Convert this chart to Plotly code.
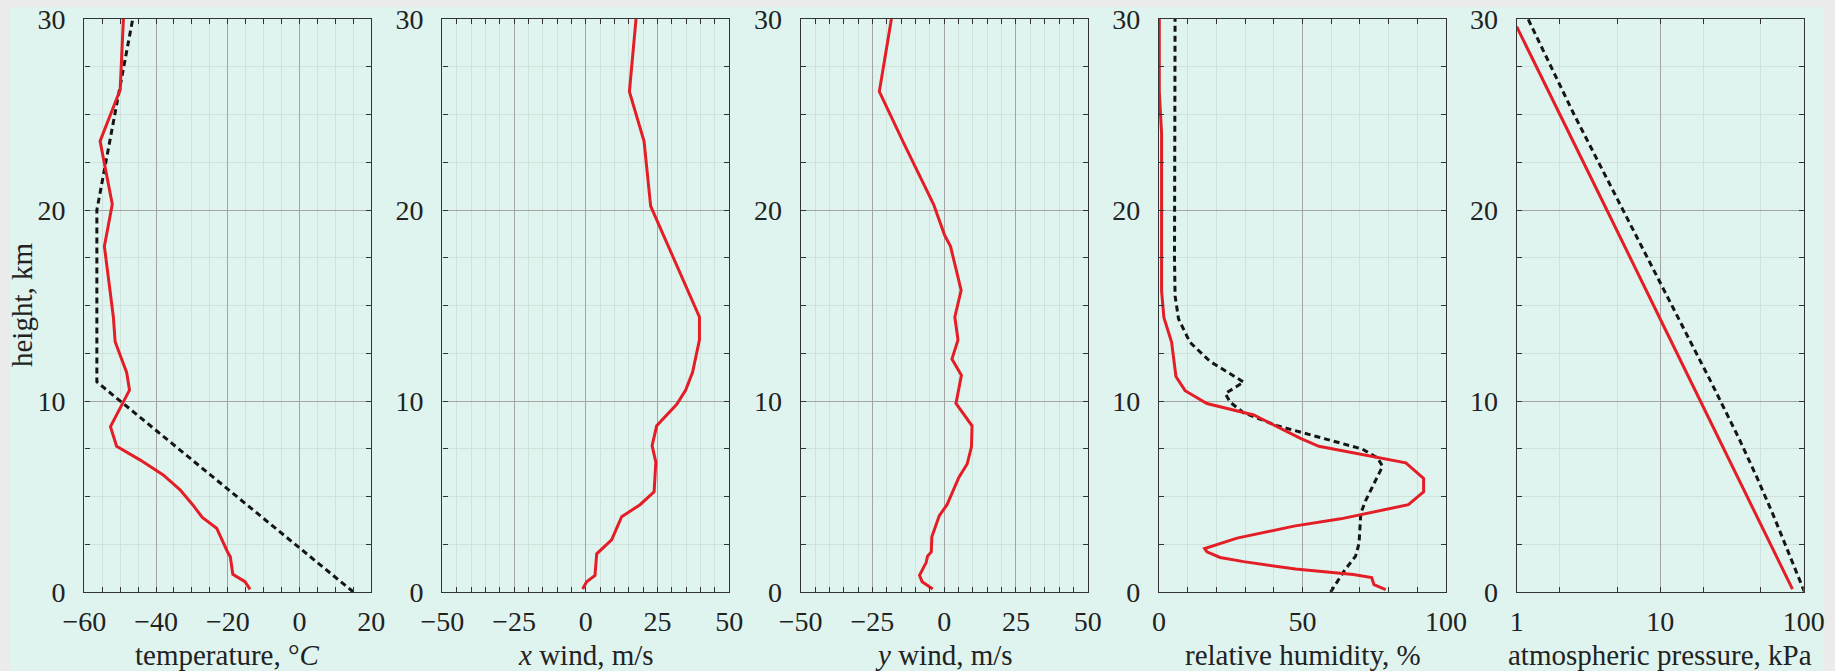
import plotly.graph_objects as go
from plotly.subplots import make_subplots

# ---------------- data ----------------
# temperature sounding (red) and standard atmosphere (dashed)
temp_h = [0.14, 0.54, 0.93, 1.85, 2.11, 2.78, 3.34, 3.9, 4.57, 5.35, 6.13, 6.92, 7.63,
          8.66, 10.57, 11.5, 13.1, 14.4, 16.2, 18.1, 20.3, 23.6, 26.3, 30.0]
temp_T = [-13.8, -15.2, -18.6, -19.3, -20.1, -21.7, -23.1, -27.1, -29.8, -33.3, -38.0,
          -44.5, -51.0, -52.7, -47.4, -48.2, -51.4, -51.9, -53.1, -54.4, -52.2, -55.6,
          -50.0, -49.1]
std_temp_h = [0, 11, 20, 30]
std_temp_T = [15, -56.5, -56.5, -46.5]

# x wind
xw_h = [0.16, 0.54, 0.87, 1.43, 2.0, 2.73, 3.94, 4.57, 5.24, 6.8, 7.66, 8.7, 9.83,
        10.57, 11.5, 13.2, 14.4, 20.2, 23.6, 26.2, 30.0]
xw_u = [-1.1, 0.3, 3.2, 3.6, 3.8, 9.0, 12.5, 18.9, 23.8, 24.4, 23.1, 24.7, 31.7,
        34.8, 37.2, 39.6, 39.6, 22.6, 20.3, 15.2, 17.5]

# y wind
yw_h = [0.16, 0.54, 0.87, 1.2, 1.54, 1.88, 2.1, 2.89, 4.0, 4.57, 6.0, 6.7, 7.6, 8.7,
        9.87, 11.35, 12.2, 13.2, 14.4, 15.8, 18.1, 18.7, 20.3, 23.5, 26.2, 30.0]
yw_v = [-4.0, -7.7, -8.6, -7.4, -6.3, -5.8, -4.5, -4.3, -1.7, 1.0, 5.1, 8.0, 9.5, 9.7,
        4.1, 6.0, 2.7, 4.8, 3.7, 5.9, 2.2, 0.1, -3.7, -14.1, -22.6, -18.4]

# relative humidity
rh_h = [0.13, 0.38, 0.76, 0.92, 1.2, 1.59, 1.81, 2.1, 2.28, 2.82, 3.45, 3.83, 4.57,
        5.24, 5.95, 6.76, 7.63, 8.04, 9.27, 9.87, 10.54, 11.28, 13.07, 14.37, 15.76,
        24.0, 26.2, 30.0]
rh_v = [79.0, 74.9, 74.1, 67.7, 47.6, 29.5, 21.3, 16.7, 15.9, 27.2, 47.0, 63.3, 86.9,
        92.2, 92.2, 86.0, 55.7, 49.3, 33.0, 16.7, 9.1, 5.9, 4.4, 1.7, 0.9,
        0.9, 0.1, 0.1]
rh2_h = [0, 1.1, 1.88, 2.55, 4.12, 4.79, 6.58, 7.03, 7.48, 8.15, 8.71, 9.38, 9.94,
         10.39, 10.99, 12.07, 13.07, 14.3, 15.5, 17.5, 30.0]
rh2_v = [59.8, 64.5, 68.5, 69.7, 70.3, 72.0, 77.9, 76.1, 70.9, 55.1, 41.1, 29.5, 24.8,
         23.1, 29.5, 17.8, 10.8, 6.8, 5.6, 5.4, 5.6]

# atmospheric pressure (kPa)
p_h = [0.15, 5, 10, 15, 20, 25, 29.6]
p_v = [83.5, 40.5, 19.2, 9.0, 4.25, 2.0, 1.0]
std_p_h = [0, 2, 4, 6, 8, 11, 15, 20, 25, 30]
std_p_v = [101.3, 79.5, 61.6, 47.2, 35.6, 22.6, 12.1, 5.47, 2.51, 1.20]

x_titles = ["temperature, °<i>C</i>", "<i>x</i> wind, m/s", "<i>y</i> wind, m/s",
            "relative humidity, %", "atmospheric pressure, kPa"]
y_title = "height, km"

# ---------------- figure ----------------
W, H = 1835, 671
MINT = "#dff4ee"
RED = "#e41e26"
BLK = "#151515"
FONT = "Liberation Serif"
FS = 28

fig = make_subplots(rows=1, cols=5)

red_line = dict(color=RED, width=3)
dash_line = dict(color=BLK, width=3, dash="6px,4px")

fig.add_trace(go.Scatter(x=std_temp_T, y=std_temp_h, mode="lines", line=dash_line), 1, 1)
fig.add_trace(go.Scatter(x=temp_T, y=temp_h, mode="lines", line=red_line), 1, 1)
fig.add_trace(go.Scatter(x=xw_u, y=xw_h, mode="lines", line=red_line), 1, 2)
fig.add_trace(go.Scatter(x=yw_v, y=yw_h, mode="lines", line=red_line), 1, 3)
fig.add_trace(go.Scatter(x=rh2_v, y=rh2_h, mode="lines", line=dash_line), 1, 4)
fig.add_trace(go.Scatter(x=rh_v, y=rh_h, mode="lines", line=red_line), 1, 4)
fig.add_trace(go.Scatter(x=std_p_v, y=std_p_h, mode="lines", line=dash_line), 1, 5)
fig.add_trace(go.Scatter(x=p_v, y=p_h, mode="lines", line=red_line), 1, 5)

lefts = [84.3, 442.3, 800.7, 1159.0, 1516.7]
pw = 287.0
ybot, ytop = 592.0, 19.0

common = dict(showline=True, linecolor="#333333", linewidth=1.4, mirror="allticks",
              ticks="inside", ticklen=5, tickwidth=1, tickcolor="#333333",
              showgrid=True, gridcolor="#a4a4a4", gridwidth=1, zeroline=False,
              automargin=False,
              tickfont=dict(family=FONT, size=FS, color="#222222"))
minor_common = dict(ticks="inside", ticklen=5, tickwidth=1, tickcolor="#333333",
                    showgrid=True, gridcolor="#cfe2dc", gridwidth=1)

xcfg = [
    dict(range=[-60, 20], tick0=-60, dtick=20, minor=dict(dtick=5, **minor_common)),
    dict(range=[-50, 50], tick0=-50, dtick=25, minor=dict(dtick=5, **minor_common)),
    dict(range=[-50, 50], tick0=-50, dtick=25, minor=dict(dtick=5, **minor_common)),
    dict(range=[0, 100], tick0=0, dtick=50, minor=dict(dtick=10, **minor_common)),
    dict(type="log", range=[0, 2], tickmode="array", tickvals=[1, 10, 100],
         ticktext=["1", "10", "100"],
         minor=dict(tickmode="array", tickvals=[2, 5, 20, 50], **minor_common)),
]

for i in range(5):
    k = "" if i == 0 else str(i + 1)
    l = lefts[i]
    fig.layout["xaxis" + k].update(domain=[l / W, (l + pw) / W], ticklabelstandoff=4,
                                   **common, **xcfg[i])
    fig.layout["yaxis" + k].update(domain=[1 - ybot / H, 1 - ytop / H], range=[0, 30],
                                   tick0=0, dtick=10, ticklabelstandoff=12,
                                   minor=dict(dtick=2.5, **minor_common), **common)
    fig.add_annotation(text=x_titles[i], xref="paper", yref="paper",
                       x=(l + pw / 2) / W, y=1 - 655 / H, xanchor="center", yanchor="middle",
                       showarrow=False, font=dict(family=FONT, size=29, color="#222222"))

fig.add_annotation(text=y_title, xref="paper", yref="paper", x=22 / W, y=1 - 305 / H,
                   xanchor="center", yanchor="middle", textangle=-90, showarrow=False,
                   font=dict(family=FONT, size=29, color="#222222"))

fig.add_shape(type="rect", xref="paper", yref="paper", x0=10 / W, x1=1824 / W,
              y0=0, y1=1 - 7.3 / H, fillcolor=MINT, line_width=0, layer="below")

fig.update_layout(width=W, height=H,
                  margin=dict(l=0, r=0, t=0, b=0, pad=0, autoexpand=False),
                  paper_bgcolor="#ebebeb", plot_bgcolor=MINT, showlegend=False)

fig.write_html("out.html", config={"displayModeBar": False},
               post_script="document.body.style.margin='0';"
                           "document.body.style.overflow='hidden';")
